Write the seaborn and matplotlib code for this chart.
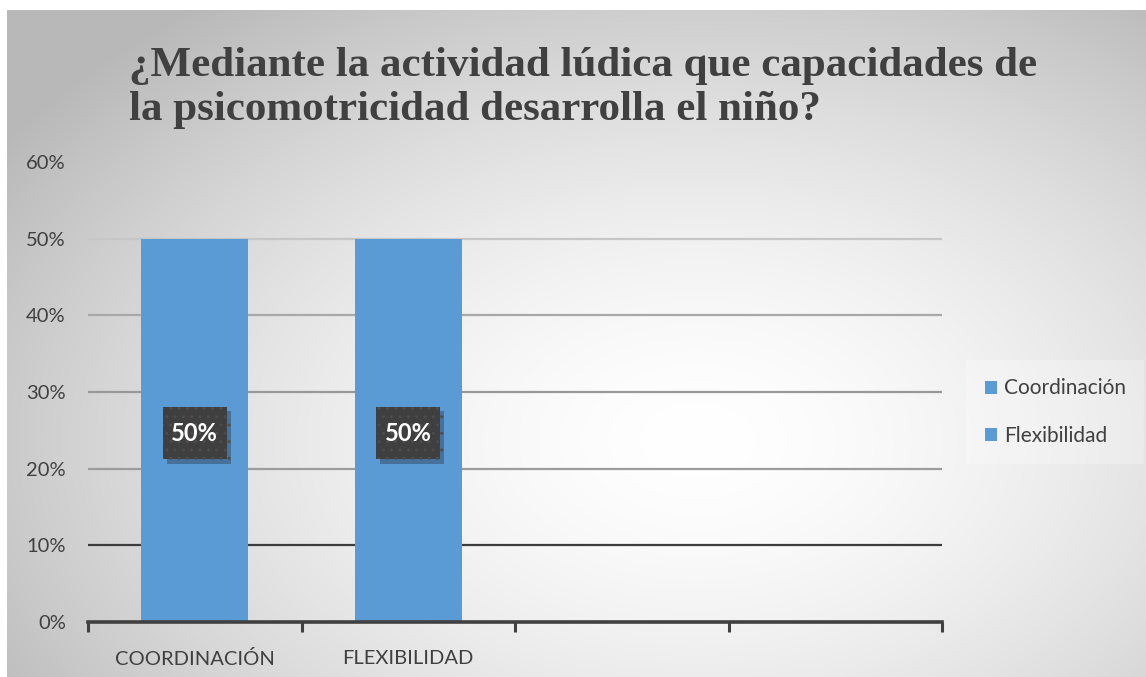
import numpy as np
import matplotlib
matplotlib.use("Agg")
import matplotlib.pyplot as plt
import matplotlib.patheffects as pe
from matplotlib.patches import Rectangle
from matplotlib.ticker import PercentFormatter, FixedLocator
import seaborn as sns

# chart data
title = "¿Mediante la actividad lúdica que capacidades de\nla psicomotricidad desarrolla el niño?"
categories = ["COORDINACIÓN", "FLEXIBILIDAD"]
series = ["Coordinación", "Flexibilidad"]
values = [0.50, 0.50]
empty_slots = [" ", "  "]
y_ticks = [0.0, 0.1, 0.2, 0.3, 0.4, 0.5, 0.6]

BLUE = "#5B9BD5"
TEXT = "#404040"


def background(fig):
    # radial grey-to-white fill behind the whole chart
    bg = fig.add_axes([7 / 1146, 0, 1 - 7 / 1146, 1 - 10 / 677], zorder=-5)
    w, h = 1139, 667
    xx, yy = np.meshgrid(np.arange(w), np.arange(h))
    d = np.sqrt(((xx - 690) / 720) ** 2 + ((yy - 430) / 470) ** 2)
    shade = 1.0 - 0.22 * np.clip(d, 0, 1.15) ** 1.6
    img = np.dstack([shade, shade, shade])
    bg.imshow(img, aspect="auto", interpolation="bilinear")
    bg.set_axis_off()


def plot_chart():
    sns.set_theme(style="white")
    plt.rcParams["font.family"] = ["Lato", "DejaVu Sans"]

    fig = plt.figure(figsize=(11.46, 6.77), dpi=100)
    background(fig)

    ax = fig.add_axes([88 / 1146, 55 / 677, (942 - 88) / 1146, 460 / 677])
    ax.patch.set_alpha(0)

    sns.barplot(
        x=categories,
        y=values,
        hue=series,
        order=categories + empty_slots,
        palette=[BLUE, BLUE],
        dodge=False,
        width=0.5,
        saturation=1,
        linewidth=0,
        ax=ax,
        zorder=3,
    )

    ax.set_xlim(-0.5, len(categories) + len(empty_slots) - 0.5)
    ax.set_ylim(0, 0.6)

    # gridlines fade from dark at the bottom to light at the top
    grid_colors = ["#3c3c3c", "#9c9c9c", "#989898", "#a8a8a8", "#c6c6c6"]
    for yv, col in zip(y_ticks[1:-1], grid_colors):
        ax.axhline(yv, color=col, lw=1.6, zorder=1)

    ax.yaxis.set_major_locator(FixedLocator(y_ticks))
    ax.yaxis.set_major_formatter(PercentFormatter(1.0, decimals=0))
    ax.tick_params(axis="y", length=0, pad=16, labelsize=14.5, labelcolor=TEXT)

    n = len(categories) + len(empty_slots)
    ax.set_xticks(np.arange(n + 1) - 0.5)
    ax.set_xticklabels([])
    ax.set_xticks(range(len(categories)), minor=True)
    ax.set_xticklabels(categories, minor=True)
    ax.tick_params(axis="x", which="major", bottom=True, length=7, width=2.2,
                   color=TEXT, direction="out")
    ax.tick_params(axis="x", which="minor", bottom=True, length=0, pad=20,
                   labelsize=14.5, labelcolor=TEXT)
    ax.set_xlabel("")
    ax.set_ylabel("")

    for s in ["left", "right", "top"]:
        ax.spines[s].set_visible(False)
    ax.spines["bottom"].set_color(TEXT)
    ax.spines["bottom"].set_linewidth(2.6)
    ax.spines["bottom"].set_zorder(4)

    # data labels in dark boxes
    for i, v in enumerate(values):
        bw, bh = 0.30, 0.068
        box = Rectangle((i - bw / 2, v / 2 - bh / 2 - 0.004), bw, bh,
                        facecolor="#3f3f3f", edgecolor="#4d4d4d", hatch="..",
                        lw=0, zorder=5)
        box.set_path_effects([pe.SimplePatchShadow(offset=(3, -3), alpha=0.3),
                              pe.Normal()])
        ax.add_patch(box)
        ax.text(i, v / 2 - 0.004, f"{v:.0%}", ha="center", va="center",
                color="white", fontsize=17, fontweight="bold", zorder=6)

    handles, labels = ax.get_legend_handles_labels()
    leg = ax.legend(
        handles, labels,
        loc="center left",
        bbox_to_anchor=(962 / 1146, 1 - 412 / 677),
        bbox_transform=fig.transFigure,
        frameon=True,
        fontsize=15,
        handlelength=0.6,
        handleheight=0.6,
        handletextpad=0.3,
        labelspacing=1.3,
        borderpad=0.6,
    )
    leg.get_frame().set_facecolor("white")
    leg.get_frame().set_alpha(0.25)
    leg.get_frame().set_edgecolor("none")
    leg.get_frame().set_boxstyle("square")
    for t in leg.get_texts():
        t.set_color(TEXT)

    fig.text(583 / 1146, 1 - 88 / 677, title, ha="center", va="center",
             multialignment="left", fontsize=31, fontweight="bold",
             color=TEXT, family=["Liberation Serif", "DejaVu Serif"],
             linespacing=1.2)

    fig.savefig("out.png", dpi=100)
    plt.close(fig)


def main():
    plot_chart()


if __name__ == "__main__":
    main()
